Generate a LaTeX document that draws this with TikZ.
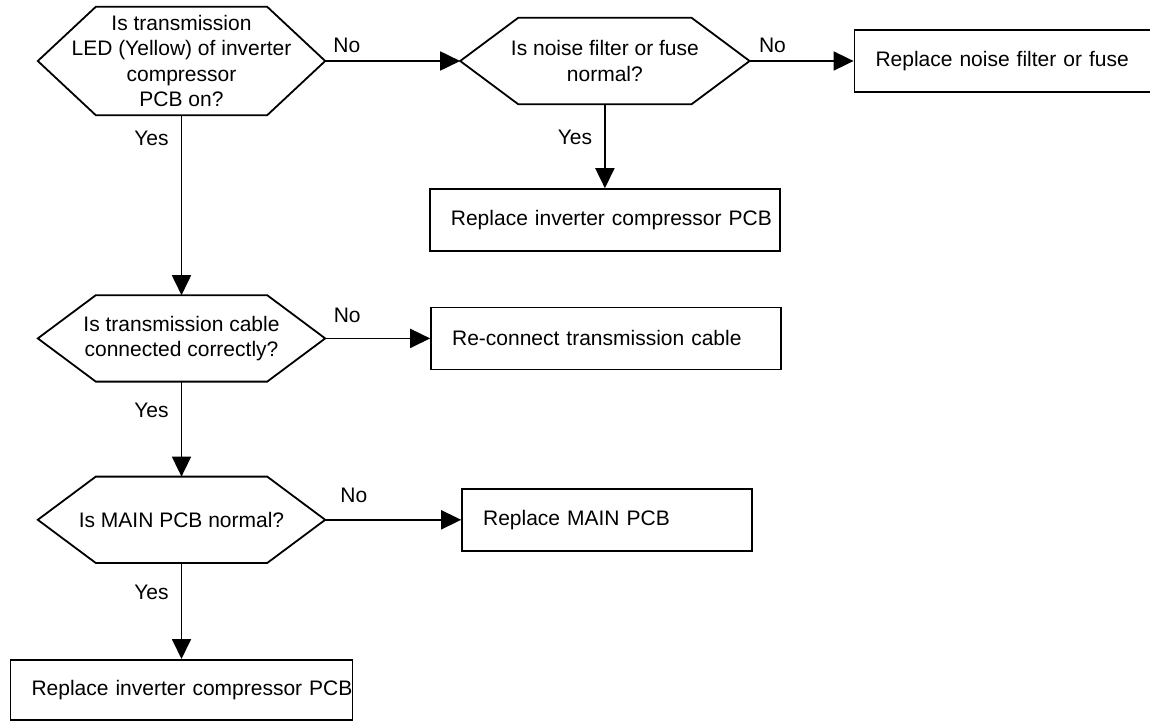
\documentclass[tikz,border=0pt]{standalone}
\usepackage{fontspec}
\setmainfont{Liberation Sans}
\usetikzlibrary{positioning,arrows.meta}

\begin{document}
\begin{tikzpicture}[
    x=1pt, y=-1pt,
    every node/.style={font=\fontsize{21}{25.5}\selectfont},
    question/.style={minimum width=#1, minimum height=86pt, inner sep=0pt, align=center},
    question/.default=287pt,
    action/.style={draw, line width=1.8pt, minimum height=62pt, inner xsep=21pt,
                   inner ysep=0pt, text width=#1, align=left,
                   execute at begin node={\leavevmode\hbox\bgroup},
                   execute at end node={\egroup}},
    hexline/.style={line width=1.8pt},
    arrow/.style={-{Triangle[length=20pt,width=19pt]}, line width=1.8pt},
    answer/.style={inner sep=0pt},
  ]
    \useasboundingbox (0,0) rectangle (1150,720);

    % Decisions (left column)
    \node[question, minimum height=108pt] (q1) at (181.5,61)
      {Is transmission\\LED (Yellow) of inverter\\compressor\\PCB on?};
    \node[question, below=180pt of q1] (q2)
      {Is transmission cable\\connected correctly?};
    \node[question, below=95pt of q2] (q3)
      {Is MAIN PCB normal?};
    \node[question=289pt, right=135pt of q1] (q4)
      {Is noise filter or fuse\\normal?};

    % Remedies
    \node[action=254pt, right=104pt of q4] (fuse)
      {Replace noise filter or fuse};
    \node[action=308pt, below=84pt of q4] (invpcb)
      {Replace inverter compressor PCB};
    \node[action=308pt, right=105pt of q2] (cable)
      {Re-connect transmission cable};
    \node[action=248pt, right=136pt of q3] (mainpcb)
      {Replace MAIN PCB};
    \node[action=300pt, minimum height=60pt, below=96pt of q3] (invpcb2)
      {Replace inverter compressor PCB};

    % Hexagon outlines of the decisions
    \foreach \q in {q1,q2,q3,q4}
      \draw[hexline] (\q.west) -- ([xshift=58pt]\q.north west)
        -- ([xshift=-58pt]\q.north east) -- (\q.east)
        -- ([xshift=-58pt]\q.south east) -- ([xshift=58pt]\q.south west) -- cycle;

    % No branches
    \draw[arrow] (q1) -- node[answer, pos=0.16, above=7pt] {No} (q4);
    \draw[arrow] (q4) -- node[answer, pos=0.22, above=7pt] {No} (fuse);
    \draw[arrow] (q2) -- node[answer, pos=0.21, above=15pt] {No} (cable);
    \draw[arrow] (q3) -- node[answer, pos=0.21, above=16pt] {No} (mainpcb);

    % Yes branches
    \draw[arrow] (q1) -- node[answer, pos=0.13, left=12pt] {Yes} (q2);
    \draw[arrow] (q4) -- node[answer, pos=0.4, left=12pt] {Yes} (invpcb);
    \draw[arrow] (q2) -- node[answer, pos=0.3, left=12pt] {Yes} (q3);
    \draw[arrow] (q3) -- node[answer, pos=0.31, left=12pt] {Yes} (invpcb2);
\end{tikzpicture}
\end{document}
